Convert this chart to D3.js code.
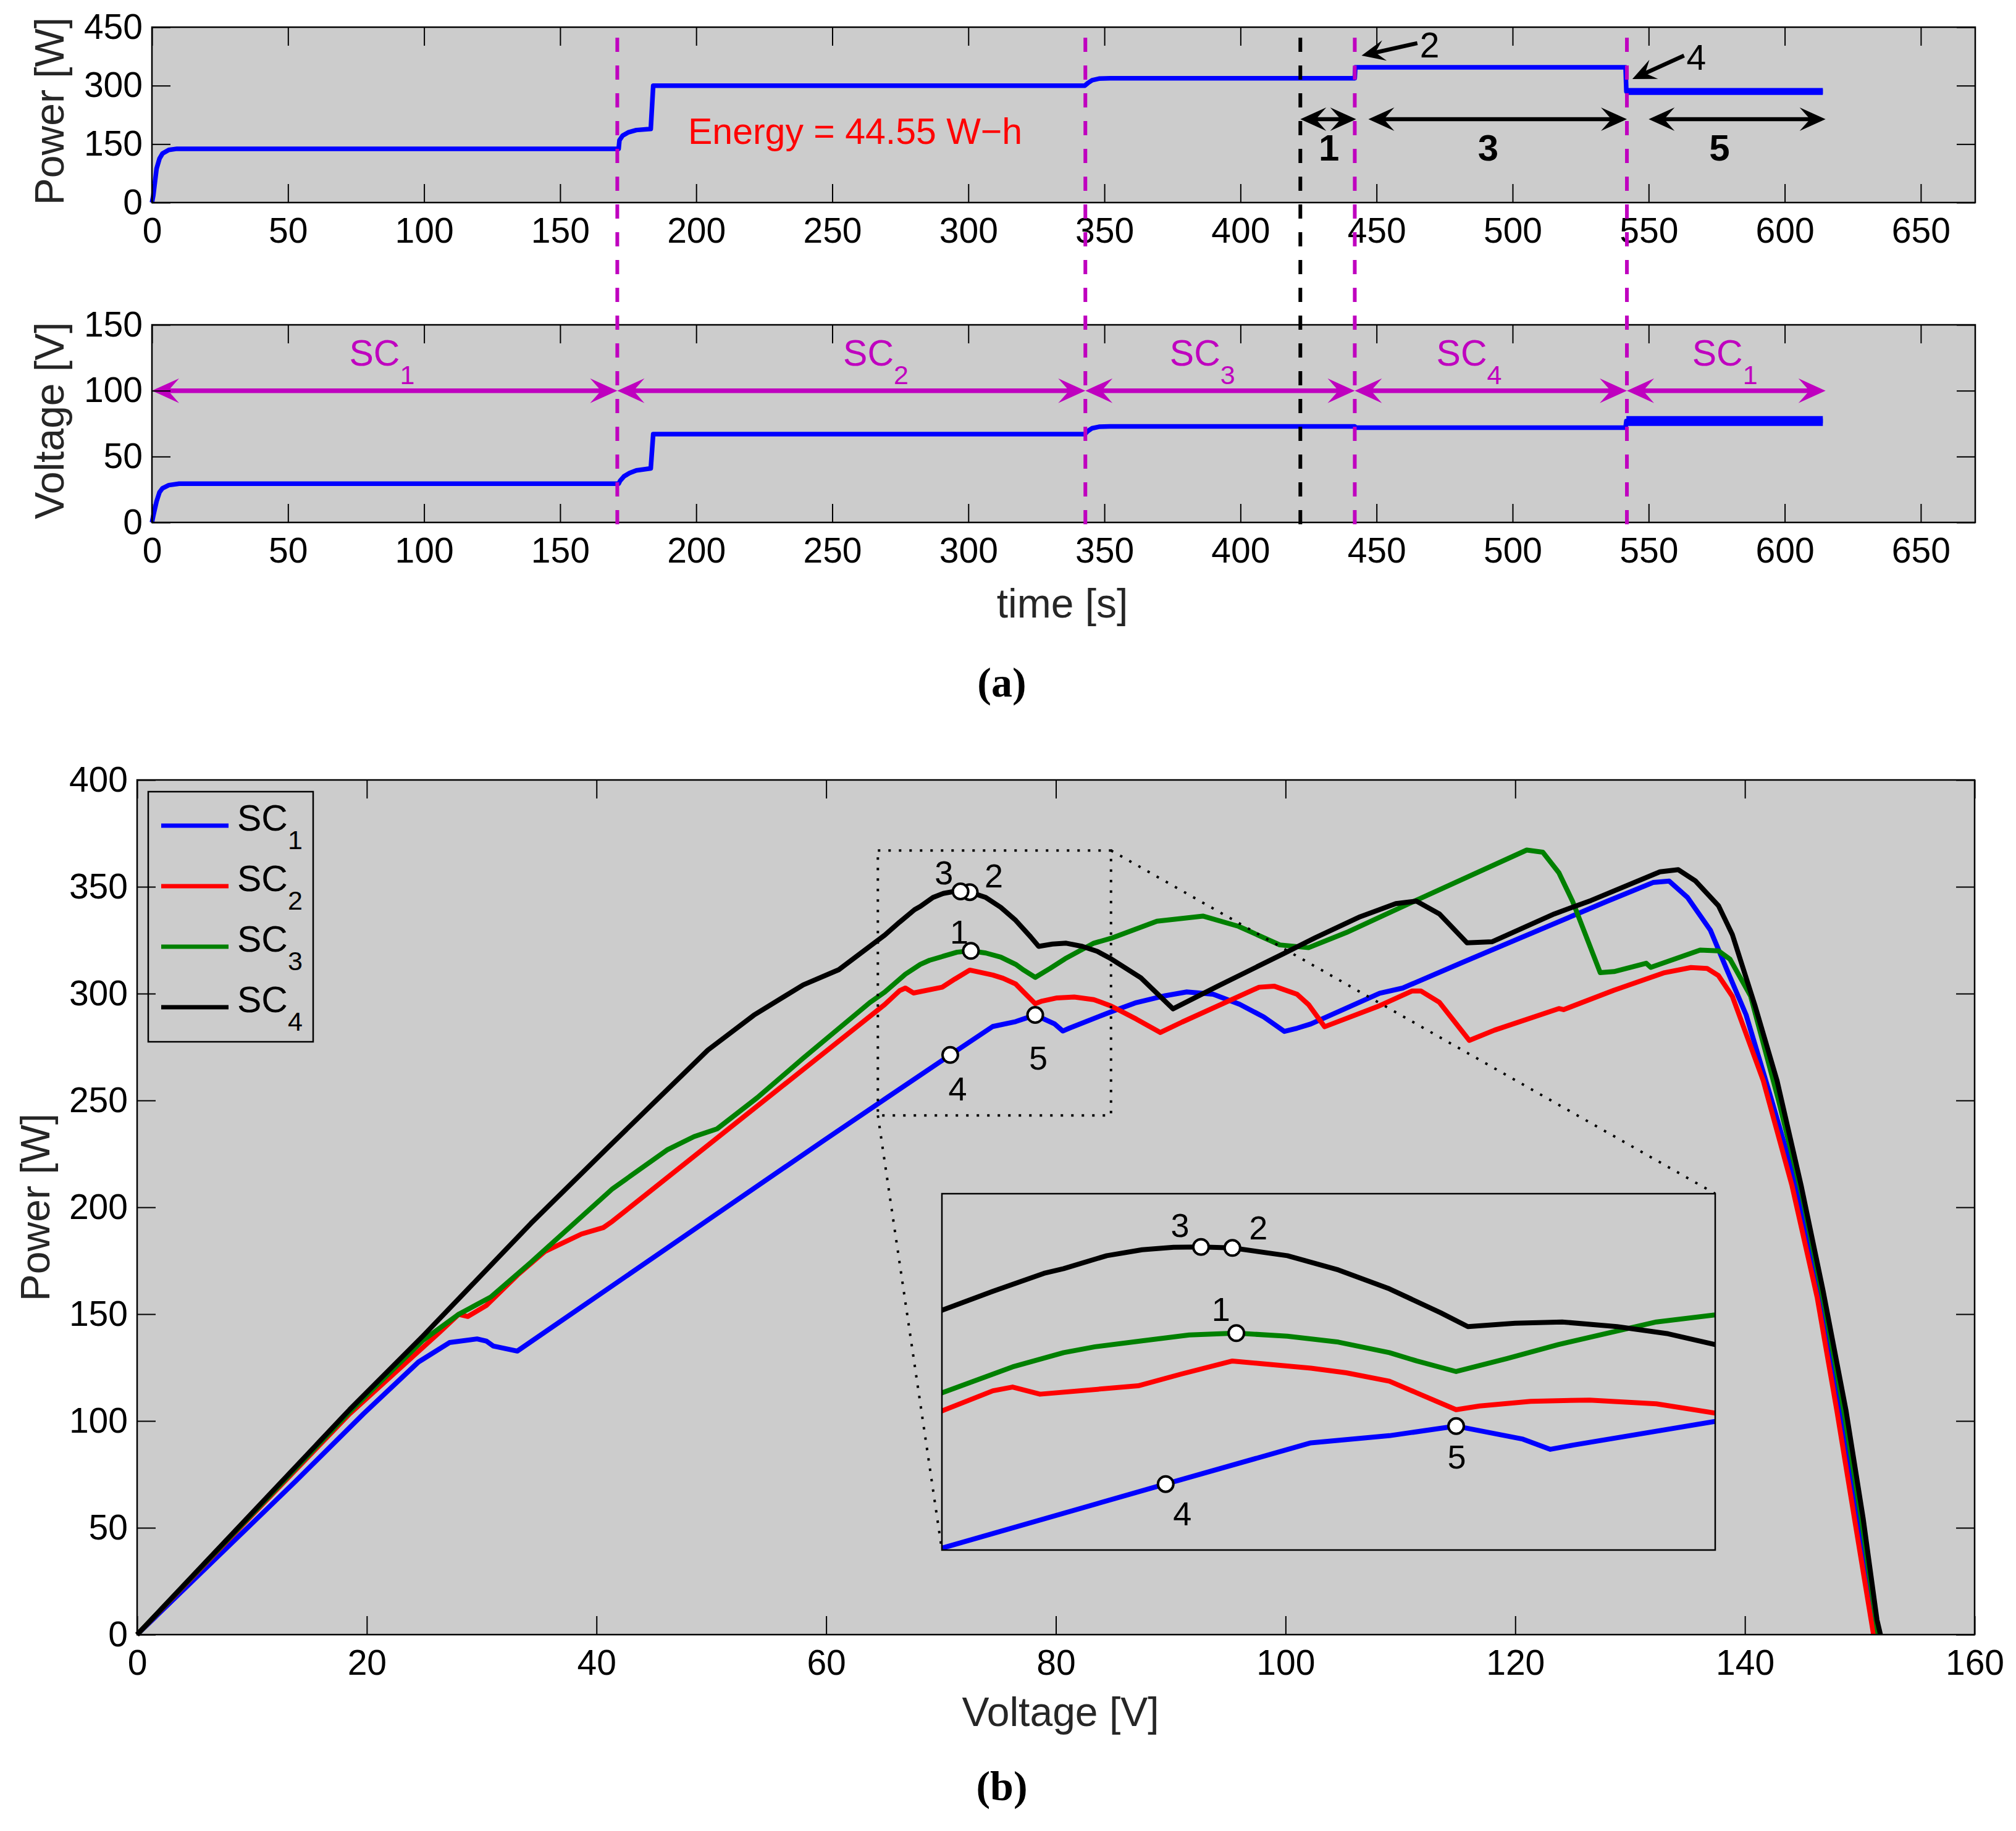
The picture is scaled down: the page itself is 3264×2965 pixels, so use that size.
<!DOCTYPE html>
<html>
<head>
<meta charset="utf-8">
<script src="https://cdn.jsdelivr.net/npm/d3@7"></script>
<style>
  body { margin: 0; background: #fff; }
</style>
</head>
<body>
<svg id="fig" width="3264" height="2965"></svg>
<script>
// ---------- panel (a) data ----------
// [time s, power W]
const powerTrace = [[0,0],[0.5,18],[1.7,87],[2.8,113],[3.9,126],[6.2,135],[9.2,138],[171.5,138],[171.8,160],
  [173,172],[175,180],[178,186],[183.3,189],[184.2,300],[342.8,300],[344,307],[345.5,314],[348,318],[352,319],
  [442,319],[442.2,347],[541.5,347],[541.8,285],[614,285]];
// ripple band at the end of the run [time, low, high]
const powerBand = [[541.8,276,294],[614,276,294]];
// [time s, voltage V]
const voltageTrace = [[0,0],[0.5,5],[1.7,16],[2.8,23],[3.9,26],[6.2,28.3],[10,29.4],[171.5,29.4],[172,31.5],
  [173.5,35],[175.5,37.5],[178,39.5],[183.3,41],[184.2,67],[342.8,67],[344,69.5],[345.5,71.5],[348,72.6],
  [352,72.9],[442,72.9],[442.3,72],[541.5,72],[541.8,77],[614,77]];
const voltageBand = [[541.8,73.2,80.8],[614,73.2,80.8]];

const switchTimes = [171, 343, 442, 542];
const detectTime = 422;
// shading condition spans and their labels
const scSpans = [[0,171],[171,343],[343,442],[442,542],[542,615]];
const scArrowLevel = 100;
const scLabels = [{t:72.5,n:"1"},{t:254,n:"2"},{t:374,n:"3"},{t:472,n:"4"},{t:566,n:"1"}];
const scLabelLevel = 119;
// numbered intervals in the power plot
const intervalArrows = [{t0:422,t1:442.5,lab:"1",lt:432.5},{t0:447,t1:542,lab:"3",lt:491},{t0:550,t1:615,lab:"5",lt:576}];
const intervalLevel = 214, intervalLabelLevel = 108;
const pointArrows = [{lab:"2",t0:465,p0:409,t1:444.5,p1:377,lp:372},{lab:"4",t0:563,p0:377,t1:544,p1:317,lp:341}];
const energyNote = {t:197, p:150.5, text:"Energy = 44.55 W\u2212h"};

// ---------- panel (b) data : P-V curves [V, W] ----------
const sc1 = [[0,0],[13.8,71.8],[19.7,103.3],[24.5,127.6],[27.2,136.7],[29.6,138.4],[30.4,137.4],[31,135.1],[33.1,132.7],
  [50.1,195.5],[59.8,231.3],[65.1,250.6],[70.8,271.3],[74.5,284.6],[76.5,286.9],[78.2,290],[79.9,285.8],[80.6,282.5],
  [81.2,283.9],[84.8,291.5],[87,295.8],[89.5,299],[91.4,300.8],[93.7,299.7],[96,295],[98.1,289.1],[99.9,282.3],
  [101,283.8],[102.2,285.8],[108.2,300.2],[110.2,302.6],[115.4,314.6],[127.9,343],[132,352],[133.4,352.7],
  [135,345],[137,329.6],[138.5,310.3],[140.1,290.1],[142.3,250.6],[144.5,210],[146.5,160],[148.4,105],[150,52],[151.5,0]];
const sc2 = [[0,0],[18.5,103.3],[26.4,141.8],[28,149.9],[28.8,148.9],[30.4,154],[33.1,168.2],[35.5,179.3],[38.7,187.5],
  [40.6,190.5],[41.4,193.5],[58,264.5],[65.1,294.9],[66.4,301.4],[66.9,302.6],[67.6,300.3],[70.1,303],[71.2,306.8],
  [72.5,311],[73.2,310.2],[74.5,308.7],[75.4,307.2],[76.5,304.5],[77.2,300.7],[78.2,295.3],[78.8,296.5],[80.1,298],
  [81.6,298.4],[83.3,297.2],[84.8,294.2],[87,288.1],[89.1,281.8],[91,286.7],[97.7,303],[99,303.5],[101,299.7],
  [102,294.9],[103.4,284.5],[108,293.9],[111,301.2],[111.8,301.2],[113.4,295.9],[116,278.1],[118.2,282.9],
  [123.8,293],[124.2,292.5],[128.6,301.6],[133,309.8],[135.3,312.2],[136.7,311.8],[137.7,308.4],[138.9,298.8],
  [141.6,259.2],[144.1,210.1],[146.3,157.6],[148,105],[149.7,49],[151.2,0]];
const sc3 = [[0,0],[18.5,104.3],[24.9,137.8],[28,149.9],[30.8,158],[34.3,174.3],[41.4,208.7],[46.2,227],[48.5,233.1],
  [50.5,236.7],[54,251.3],[58,269.8],[63.8,295.8],[65.1,300.7],[66.9,309.1],[68.2,313.7],[69,315.6],[70.2,317.5],
  [71.4,319.4],[72.6,320],[73.9,319],[75.2,317.1],[76.5,313.7],[77.2,311],[78.2,307.6],[79.5,311.8],[80.8,316.3],
  [83.3,323.6],[84.8,325.9],[88.8,333.9],[92.8,336.3],[95.9,331.5],[99.5,322.8],[102,321.5],[105.3,328.6],
  [111.5,344],[121,367.2],[122.4,366.2],[123.8,356.6],[125,343.1],[127.4,309.8],[128.6,310.3],[131.4,314.2],
  [131.8,312.3],[136.1,320.4],[137.7,320],[138.7,316.1],[140.5,298.8],[142.9,250.6],[145,205],[146.9,155],
  [148.6,105],[150.2,52],[151.6,0]];
const sc4 = [[0,0],[18.5,105.3],[24.9,139.8],[34.3,192.5],[41,228],[49.7,273.6],[53.7,289.9],[58,304.1],[61.1,311.2],
  [65.1,327.4],[66.4,333.5],[67.7,339.3],[68.2,340.8],[69.3,345],[70.2,346.9],[71,347.7],[71.7,347.8],[72.5,347.5],
  [73.9,345],[75.2,340.4],[76.5,334.3],[77.8,326.6],[78.5,322.1],[79.7,323.2],[80.9,323.6],[82.3,322.1],[83.6,319.8],
  [84.8,316.3],[87.4,307.4],[90.2,292.9],[94.1,303.5],[99.9,318.9],[102.6,326.2],[106.5,336],[109.6,342.1],
  [111.4,343.3],[113.4,337.3],[115.8,323.8],[118,324.3],[123.4,337.3],[126.6,343.6],[132.6,357],[134.2,358],
  [135.7,352.7],[137.7,341.1],[138.9,327.7],[140.9,294],[142.8,259.2],[144.9,210.1],[146.8,161.1],[148.8,105],
  [150.3,54.2],[151.5,6.9],[151.8,0]];
const seriesNames = ["1","2","3","4"];
const seriesData = [sc1, sc2, sc3, sc4];
const seriesColors = ["#0000ff", "#ff0000", "#008000", "#000000"];
// operating points marked on the curves
const opPoints = [{lab:"1",v:72.6,p:320},{lab:"2",v:72.5,p:347.5},{lab:"3",v:71.7,p:347.8},{lab:"4",v:70.8,p:271.3},{lab:"5",v:78.2,p:290}];
// zoom window (main axes) and inset limits
const zoomBox = {v0:64.5, v1:84.8, p0:243, p1:367};
const insetLimits = {v0:65.1, v1:84.8, p0:250, p1:365};

// ---------- drawing ----------
const FONT = "'Liberation Sans', Arial, Helvetica, sans-serif";
const MAG = "#bf00bf";
const svg = d3.select("#fig");
svg.append("rect").attr("width", 3264).attr("height", 2965).attr("fill", "#fff");

const xT = d3.scaleLinear().domain([0, 670]).range([246, 3198]);
const yP = d3.scaleLinear().domain([0, 450]).range([328, 44]);
const yV = d3.scaleLinear().domain([0, 150]).range([846, 526]);
const xB = d3.scaleLinear().domain([0, 160]).range([222, 3197]);
const yB = d3.scaleLinear().domain([0, 400]).range([2647, 1263]);
const xI = d3.scaleLinear().domain([insetLimits.v0, insetLimits.v1]).range([1525, 2777]);
const yI = d3.scaleLinear().domain([insetLimits.p0, insetLimits.p1]).range([2510, 1933]);

function background(x, y) {
  svg.append("rect")
    .attr("x", x.range()[0]).attr("y", y.range()[1])
    .attr("width", x.range()[1] - x.range()[0])
    .attr("height", y.range()[0] - y.range()[1])
    .attr("fill", "#cccccc");
}

function axes(x, y, xTicks, yTicks) {
  const [x0, x1] = x.range(), [yb, yt] = y.range();
  const style = (sel) => {
    sel.attr("font-family", FONT).attr("font-size", 57);
    sel.select(".domain").remove();
    sel.selectAll(".tick line").attr("stroke-width", 2);
    sel.selectAll(".tick text").attr("fill", "#000");
  };
  svg.append("g").attr("transform", `translate(0,${yb})`)
    .call(d3.axisBottom(x).tickValues(xTicks).tickSizeInner(-30).tickSizeOuter(0).tickPadding(25)).call(style);
  svg.append("g").attr("transform", `translate(0,${yt})`)
    .call(d3.axisTop(x).tickValues(xTicks).tickSizeInner(-30).tickSizeOuter(0).tickFormat("")).call(style);
  svg.append("g").attr("transform", `translate(${x0},0)`)
    .call(d3.axisLeft(y).tickValues(yTicks).tickSizeInner(-30).tickSizeOuter(0).tickPadding(15)).call(style);
  svg.append("g").attr("transform", `translate(${x1},0)`)
    .call(d3.axisRight(y).tickValues(yTicks).tickSizeInner(-30).tickSizeOuter(0).tickFormat("")).call(style);
  svg.append("rect").attr("x", x0).attr("y", yt).attr("width", x1 - x0).attr("height", yb - yt)
    .attr("fill", "none").attr("stroke", "#000").attr("stroke-width", 2.5);
}

function head(g, x, y, ang, color, L, W) {
  g.append("path")
    .attr("d", `M0,0L${-L},${-W}L${-0.6 * L},0L${-L},${W}Z`)
    .attr("transform", `translate(${x},${y}) rotate(${ang})`)
    .attr("fill", color);
}

function doubleArrow(g, xa, xb, y, color, lw, L, W) {
  g.append("line").attr("x1", xa + L * 0.5).attr("x2", xb - L * 0.5).attr("y1", y).attr("y2", y)
    .attr("stroke", color).attr("stroke-width", lw);
  head(g, xb, y, 0, color, L, W);
  head(g, xa, y, 180, color, L, W);
}

function axisLabel(text, x, y, rotate) {
  svg.append("text")
    .attr("transform", `translate(${x},${y})` + (rotate ? " rotate(-90)" : ""))
    .attr("text-anchor", "middle")
    .attr("font-family", FONT).attr("font-size", 66).attr("fill", "#262626")
    .text(text);
}

function subLabel(g, x, y, main, sub, color, size, subSize, anchor) {
  const t = g.append("text").attr("x", x).attr("y", y)
    .attr("font-family", FONT).attr("font-size", size).attr("fill", color)
    .attr("text-anchor", anchor || "start");
  t.append("tspan").text(main);
  t.append("tspan").attr("font-size", subSize).attr("dy", size * 0.5).text(sub);
}

// ===== panel (a): power =====
background(xT, yP);
const gA = svg.append("g");
gA.append("path").datum(powerBand)
  .attr("d", d3.area().x(d => xT(d[0])).y0(d => yP(d[1])).y1(d => yP(d[2])))
  .attr("fill", "#0000ff");
gA.append("path").datum(powerTrace)
  .attr("d", d3.line().x(d => xT(d[0])).y(d => yP(d[1])))
  .attr("fill", "none").attr("stroke", "#0000ff").attr("stroke-width", 7.5).attr("stroke-linejoin", "round");

gA.append("text")
  .attr("x", xT(energyNote.t)).attr("y", yP(energyNote.p))
  .attr("font-family", FONT).attr("font-size", 59).attr("fill", "#ff0000")
  .text(energyNote.text);

intervalArrows.forEach(a => {
  doubleArrow(gA, xT(a.t0), xT(a.t1), yP(intervalLevel), "#000", 6.5, 42, 19);
  gA.append("text").attr("x", xT(a.lt)).attr("y", yP(intervalLabelLevel))
    .attr("text-anchor", "middle").attr("font-family", FONT).attr("font-weight", "bold")
    .attr("font-size", 60).text(a.lab);
});
pointArrows.forEach(a => {
  const x0 = xT(a.t0), y0 = yP(a.p0), x1 = xT(a.t1), y1 = yP(a.p1);
  const ang = Math.atan2(y1 - y0, x1 - x0) * 180 / Math.PI;
  const k = 1 - 20 / Math.hypot(x1 - x0, y1 - y0);
  gA.append("line").attr("x1", x0).attr("y1", y0)
    .attr("x2", x0 + (x1 - x0) * k).attr("y2", y0 + (y1 - y0) * k)
    .attr("stroke", "#000").attr("stroke-width", 6.5);
  head(gA, x1, y1, ang, "#000", 38, 17);
  gA.append("text").attr("x", x0 + 4).attr("y", yP(a.lp))
    .attr("font-family", FONT).attr("font-size", 57).text(a.lab);
});
axes(xT, yP, d3.range(0, 651, 50), [0, 150, 300, 450]);
axisLabel("Power [W]", 103, 180, true);

// ===== panel (a): voltage =====
background(xT, yV);
const gV = svg.append("g");
gV.append("path").datum(voltageBand)
  .attr("d", d3.area().x(d => xT(d[0])).y0(d => yV(d[1])).y1(d => yV(d[2])))
  .attr("fill", "#0000ff");
gV.append("path").datum(voltageTrace)
  .attr("d", d3.line().x(d => xT(d[0])).y(d => yV(d[1])))
  .attr("fill", "none").attr("stroke", "#0000ff").attr("stroke-width", 7.5).attr("stroke-linejoin", "round");

scSpans.forEach(s => doubleArrow(gV, xT(s[0]), xT(s[1]), yV(scArrowLevel), MAG, 7.5, 44, 20));
scLabels.forEach(s => subLabel(gV, xT(s.t), yV(scLabelLevel), "SC", s.n, MAG, 59, 43));
axes(xT, yV, d3.range(0, 651, 50), [0, 50, 100, 150]);
axisLabel("Voltage [V]", 103, 681, true);
axisLabel("time [s]", 1720, 1000, false);

// dashed markers spanning both axes
const dashTop = 61, dashBottom = 849;
switchTimes.forEach(t => {
  svg.append("line").attr("x1", xT(t)).attr("x2", xT(t)).attr("y1", dashTop).attr("y2", dashBottom)
    .attr("stroke", MAG).attr("stroke-width", 6).attr("stroke-dasharray", "23,22");
});
svg.append("line").attr("x1", xT(detectTime)).attr("x2", xT(detectTime)).attr("y1", dashTop).attr("y2", dashBottom)
  .attr("stroke", "#000").attr("stroke-width", 6).attr("stroke-dasharray", "23,22");

svg.append("text").attr("x", 1622).attr("y", 1128).attr("text-anchor", "middle")
  .attr("font-family", "'Liberation Serif', 'DejaVu Serif', serif").attr("font-weight", "bold")
  .attr("font-size", 68).text("(a)");

// ===== panel (b) =====
background(xB, yB);
const gB = svg.append("g");
const lineB = d3.line().x(d => xB(d[0])).y(d => yB(d[1]));
seriesData.forEach((s, i) => {
  gB.append("path").datum(s).attr("d", lineB)
    .attr("fill", "none").attr("stroke", seriesColors[i]).attr("stroke-width", 8).attr("stroke-linejoin", "round");
});

// zoom window and connectors
const dotted = { stroke: "#000", w: 4, dash: "4,13" };
gB.append("rect")
  .attr("x", xB(zoomBox.v0)).attr("y", yB(zoomBox.p1))
  .attr("width", xB(zoomBox.v1) - xB(zoomBox.v0)).attr("height", yB(zoomBox.p0) - yB(zoomBox.p1))
  .attr("fill", "none").attr("stroke", dotted.stroke).attr("stroke-width", dotted.w).attr("stroke-dasharray", dotted.dash);
gB.append("line").attr("x1", xB(zoomBox.v1)).attr("y1", yB(zoomBox.p1))
  .attr("x2", xI.range()[1]).attr("y2", yI.range()[1])
  .attr("stroke", dotted.stroke).attr("stroke-width", dotted.w).attr("stroke-dasharray", dotted.dash);
gB.append("line").attr("x1", xB(zoomBox.v0)).attr("y1", yB(zoomBox.p0))
  .attr("x2", xI.range()[0]).attr("y2", yI.range()[0])
  .attr("stroke", dotted.stroke).attr("stroke-width", dotted.w).attr("stroke-dasharray", dotted.dash);

// label offsets (px) around the operating points
const mainOffsets = {"1":[-19,-31],"2":[39,-27],"3":[-27,-31],"4":[12,55],"5":[5,69]};
const insetOffsets = {"1":[-25,-39],"2":[42,-33],"3":[-34,-35],"4":[27,48],"5":[1,50]};

function pointsAndLabels(g, x, y, offsets) {
  g.selectAll(null).data(opPoints).enter().append("text")
    .attr("x", d => x(d.v) + offsets[d.lab][0])
    .attr("y", d => y(d.p) + offsets[d.lab][1] + 19)
    .attr("text-anchor", "middle").attr("font-family", FONT).attr("font-size", 54)
    .text(d => d.lab);
  g.selectAll(null).data(opPoints).enter().append("circle")
    .attr("cx", d => x(d.v)).attr("cy", d => y(d.p)).attr("r", 12.5)
    .attr("fill", "#fff").attr("stroke", "#000").attr("stroke-width", 4);
}
pointsAndLabels(gB, xB, yB, mainOffsets);

// inset
const gI = svg.append("g");
svg.append("clipPath").attr("id", "insetClip").append("rect")
  .attr("x", xI.range()[0]).attr("y", yI.range()[1])
  .attr("width", xI.range()[1] - xI.range()[0]).attr("height", yI.range()[0] - yI.range()[1]);
gI.append("rect")
  .attr("x", xI.range()[0]).attr("y", yI.range()[1])
  .attr("width", xI.range()[1] - xI.range()[0]).attr("height", yI.range()[0] - yI.range()[1])
  .attr("fill", "#cccccc");
const lineI = d3.line().x(d => xI(d[0])).y(d => yI(d[1]));
const gIc = gI.append("g").attr("clip-path", "url(#insetClip)");
seriesData.forEach((s, i) => {
  gIc.append("path").datum(s).attr("d", lineI)
    .attr("fill", "none").attr("stroke", seriesColors[i]).attr("stroke-width", 8).attr("stroke-linejoin", "round");
});
pointsAndLabels(gI, xI, yI, insetOffsets);
gI.append("rect")
  .attr("x", xI.range()[0]).attr("y", yI.range()[1])
  .attr("width", xI.range()[1] - xI.range()[0]).attr("height", yI.range()[0] - yI.range()[1])
  .attr("fill", "none").attr("stroke", "#000").attr("stroke-width", 2.5);

// legend
const lg = svg.append("g");
lg.append("rect").attr("x", 240).attr("y", 1282).attr("width", 267).attr("height", 405)
  .attr("fill", "#cccccc").attr("stroke", "#000").attr("stroke-width", 2.5);
seriesNames.forEach((n, i) => {
  const y = 1337 + i * 98;
  lg.append("line").attr("x1", 261).attr("x2", 370).attr("y1", y).attr("y2", y)
    .attr("stroke", seriesColors[i]).attr("stroke-width", 7);
  subLabel(lg, 384, y + 8, "SC", n, "#000", 59, 43);
});

axes(xB, yB, d3.range(0, 161, 20), d3.range(0, 401, 50));
axisLabel("Power [W]", 80, 1955, true);
axisLabel("Voltage [V]", 1717, 2795, false);
svg.append("text").attr("x", 1622).attr("y", 2915).attr("text-anchor", "middle")
  .attr("font-family", "'Liberation Serif', 'DejaVu Serif', serif").attr("font-weight", "bold")
  .attr("font-size", 68).text("(b)");
</script>
</body>
</html>
